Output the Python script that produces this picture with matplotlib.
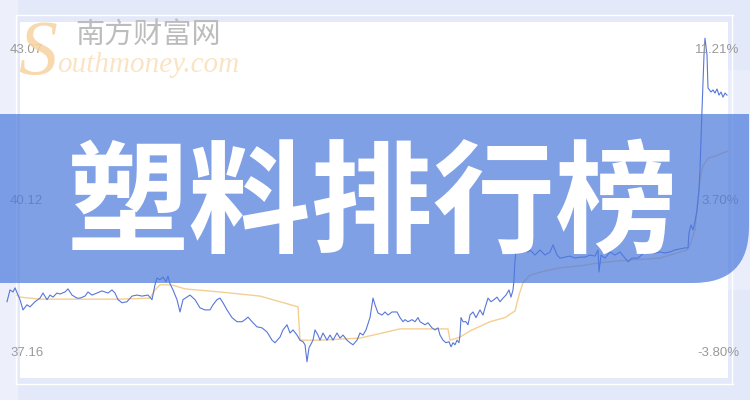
import numpy as np
import matplotlib.pyplot as plt
from matplotlib.patches import Rectangle, PathPatch
from matplotlib.path import Path

# Price series (trading day, close)
days = [0, 3, 6, 8, 11, 13, 16, 20, 23, 28, 33, 36, 40, 43, 46, 50, 53, 58, 61, 65,
        70, 73, 78, 81, 85, 90, 95, 101, 105, 108, 111, 115, 120, 125, 130, 135, 141, 145, 148, 150,
        153, 156, 159, 161, 163, 166, 170, 173, 176, 183, 188, 193, 198, 203, 206, 210, 213, 216, 220, 225,
        230, 235, 238, 241, 245, 250, 255, 260, 265, 268, 273, 276, 280, 283, 286, 290, 293, 296, 298, 300,
        302, 306, 308, 311, 313, 316, 320, 323, 326, 330, 333, 336, 340, 343, 346, 350, 353, 356, 359, 363,
        366, 368, 371, 375, 378, 381, 385, 390, 393, 396, 398, 401, 405, 408, 411, 413, 418, 421, 425, 428,
        431, 433, 436, 439, 442, 444, 446, 448, 450, 452, 453, 454, 456, 459, 461, 463, 466, 469, 473, 476,
        478, 481, 484, 487, 490, 493, 496, 499, 502, 504, 506, 507, 508, 510, 513, 517, 521, 523, 528, 533,
        538, 543, 546, 550, 553, 558, 563, 568, 573, 578, 583, 588, 591, 592, 594, 598, 603, 608, 613, 621,
        625, 631, 638, 643, 648, 653, 658, 663, 668, 673, 678, 681, 682, 684, 686, 688, 690, 692, 693, 694,
        695, 697, 698, 700, 701, 704, 706, 708, 710, 712, 714, 716, 718, 720]
close = [38.16, 38.39, 38.35, 38.43, 38.29, 38.20, 38.00, 38.10, 38.06, 38.16, 38.23, 38.33, 38.20, 38.29, 38.25, 38.33, 38.31, 38.35, 38.41, 38.29,
         38.23, 38.23, 38.27, 38.35, 38.29, 38.33, 38.37, 38.33, 38.39, 38.33, 38.20, 38.14, 38.16, 38.27, 38.29, 38.27, 38.29, 38.20, 38.49, 38.62,
         38.59, 38.64, 38.55, 38.66, 38.51, 38.39, 38.20, 37.96, 38.20, 38.29, 38.20, 38.04, 38.00, 38.00, 38.10, 38.20, 38.23, 38.14, 38.00, 37.85,
         37.77, 37.77, 37.81, 37.86, 37.77, 37.67, 37.65, 37.57, 37.41, 37.36, 37.47, 37.61, 37.71, 37.55, 37.61, 37.51, 37.41, 37.38, 37.32, 36.99,
         37.26, 37.41, 37.61, 37.51, 37.41, 37.55, 37.41, 37.51, 37.41, 37.55, 37.45, 37.51, 37.41, 37.36, 37.32, 37.41, 37.55, 37.51, 37.61, 37.85,
         38.23, 38.10, 37.94, 37.90, 37.96, 37.90, 37.96, 37.96, 37.85, 37.77, 37.81, 37.77, 37.81, 37.77, 37.85, 37.77, 37.71, 37.75, 37.65, 37.61,
         37.65, 37.51, 37.41, 37.36, 37.38, 37.28, 37.36, 37.32, 37.41, 37.36, 37.51, 37.85, 37.77, 37.77, 37.71, 37.90, 37.96, 37.85, 38.00, 37.90,
         38.04, 38.23, 38.16, 38.20, 38.25, 38.16, 38.23, 38.29, 38.39, 38.25, 38.39, 38.59, 38.97, 39.27, 39.31, 39.17, 39.13, 39.17, 39.07, 39.17,
         39.07, 39.13, 39.27, 39.07, 39.01, 39.03, 39.05, 39.01, 39.03, 39.03, 39.07, 39.05, 39.17, 38.74, 39.07, 39.01, 39.13, 39.07, 39.13, 38.94,
         39.01, 39.01, 39.13, 39.13, 39.11, 39.13, 39.11, 39.13, 39.17, 39.19, 39.21, 39.21, 39.50, 39.66, 39.56, 39.72, 39.95, 40.34, 40.73, 41.31,
         41.90, 42.97, 43.30, 42.97, 42.33, 42.25, 42.29, 42.23, 42.31, 42.19, 42.25, 42.15, 42.23, 42.19]

# Average cost line
ma_days = [10, 13, 33, 73, 113, 143, 148, 153, 163, 168, 178, 213, 253, 291, 293, 313, 353, 393, 441, 443,
           453, 463, 483, 498, 508, 512, 516, 523, 538, 553, 573, 593, 613, 653, 680, 683, 688, 691, 693, 696,
           701, 708, 721]
ma = [38.29, 38.25, 38.21, 38.21, 38.21, 38.23, 38.39, 38.49, 38.49, 38.47, 38.41, 38.35, 38.27, 38.06, 37.41, 37.41, 37.45, 37.63, 37.63, 37.41,
      37.47, 37.59, 37.77, 37.85, 37.98, 38.29, 38.53, 38.68, 38.76, 38.82, 38.86, 38.92, 38.96, 39.01, 39.17, 39.27, 39.56, 40.15, 40.54, 40.81,
      40.96, 41.00, 41.10]

left_ticks = [43.07, 40.12, 37.16]
right_ticks = ['11.21%', '3.70%', '-3.80%']
title = '塑料排行榜'

fig = plt.figure(figsize=(7.5, 4), dpi=100)
fig.patch.set_facecolor('#e4e9f9')

# Background panels (pixel coordinates)
bg = fig.add_axes([0, 0, 1, 1], zorder=0)
bg.set_xlim(0, 750)
bg.set_ylim(400, 0)
bg.axis('off')
bg.add_patch(Rectangle((0, 0), 18, 400, color='#edf0fb', lw=0))
bg.add_patch(Rectangle((728, 70), 22, 220, color='#eaeefb', lw=0))
bg.add_patch(Rectangle((20, 22), 708, 356, color='white', lw=0))
bg.plot([16, 733], [15, 15], color='white', lw=1)
bg.plot([16, 733], [384, 384], color='white', lw=1)
bg.plot([16, 16], [15, 384], color='white', lw=1)
bg.plot([732, 732], [15, 384], color='white', lw=1)

# Price chart
ax = fig.add_axes([0, 0, 1, 1], zorder=1)
ax.patch.set_alpha(0)
ax.set_xlim(-7, 743)
ax.set_ylim(36.243, 44.045)
ax.axis('off')
ax.plot(ma_days, ma, color='#f4cf92', lw=1.0)
ax.plot(days, close, color='#5877d6', lw=0.8)
for v, r in zip(left_ticks, right_ticks):
    ax.text(3, v, '%.2f' % v, ha='left', va='center', fontsize=9.5,
            family='Liberation Sans', color='#9a9a9a')
    ax.text(732, v, r, ha='right', va='center', fontsize=9.5,
            family='Liberation Sans', color='#9a9a9a')

# Overlay: blue band, title and watermark
ov = fig.add_axes([0, 0, 1, 1], zorder=2)
ov.patch.set_alpha(0)
ov.set_xlim(0, 750)
ov.set_ylim(400, 0)
ov.axis('off')

top, bot, right, rad = 114, 283, 749, 56
verts = [(0, top), (right, top), (right, bot - rad), (right, bot), (right - rad, bot), (0, bot), (0, top)]
codes = [Path.MOVETO, Path.LINETO, Path.LINETO, Path.CURVE3, Path.CURVE3, Path.LINETO, Path.CLOSEPOLY]
ov.add_patch(PathPatch(Path(verts, codes), facecolor='#4a78dc', edgecolor='none', alpha=0.7))

ov.text(373, 207, title, ha='center', va='center', fontsize=88, color='white',
        family='Noto Sans CJK SC', weight='bold')

# Watermark
ov.text(18, 74, 'S', ha='left', va='baseline', fontsize=56, color='#f7d3a0', alpha=0.85,
        family='Liberation Serif', style='italic')
ov.text(75, 36, '南方财富网', ha='left', va='center', fontsize=21, color='#bcbcbc',
        family='Noto Sans CJK SC')
ov.text(57, 72, 'outhmoney.com', ha='left', va='baseline', fontsize=21, color='#fae4c4',
        family='Liberation Serif', style='italic')

plt.savefig('out.png', dpi=100)
